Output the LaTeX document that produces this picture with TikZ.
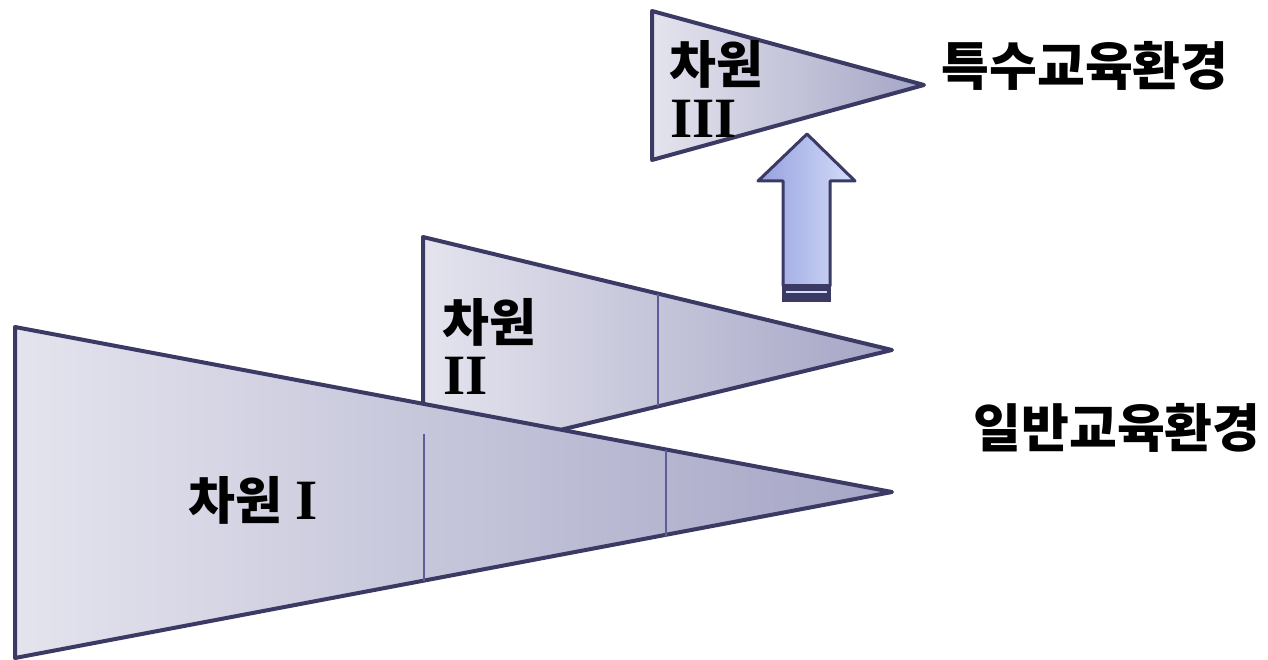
\documentclass[tikz,border=0pt]{standalone}
\usepackage{fontspec}
\setmainfont{Liberation Serif}
\newfontfamily\kr{Noto Sans CJK KR}
\usetikzlibrary{positioning}

\definecolor{wedgeline}{RGB}{58,58,100}
\definecolor{dividerline}{RGB}{92,92,150}
\definecolor{wedgelight}{RGB}{228,228,238}
\definecolor{wedgedark}{RGB}{165,165,198}
\definecolor{arrowdark}{RGB}{150,160,222}
\definecolor{arrowlight}{RGB}{212,222,250}

\newcommand{\numsize}{\fontsize{57}{60}\selectfont}

\begin{document}
\begin{tikzpicture}[x=1pt, y=-1pt, line join=round,
    wedge/.style={draw=wedgeline, line width=4pt, left color=wedgelight, right color=wedgedark},
    divider/.style={draw=dividerline, line width=2pt},
    dimtext/.style={inner sep=0pt, font=\fontsize{51}{60}\selectfont\bfseries},
    envtext/.style={inner sep=0pt, font=\kr\fontsize{52}{60}\selectfont\bfseries}]
        \useasboundingbox (0,0) rectangle (1268,660);

        % Dimension III
        \draw[wedge] (652,11) -- (924,85) -- (652,160) -- cycle;
        \node[dimtext, anchor=base west] (dimIII) at (669,84) {\kr 차원};
        \node[dimtext, anchor=base west] (dimIIInum) at (670,138) {\numsize III};

        % Arrow
        \draw[draw=wedgeline, line width=3pt, left color=arrowdark, middle color=arrowlight, right color=arrowlight]
            (807,134) -- (855,181) -- (830,181) -- (830,286) -- (783,286) -- (783,181) -- (758,181) -- cycle;
        \fill[wedgeline] (782,284) rectangle (831,302);
        \draw[arrowlight, line width=1.5pt] (786,292) -- (827,292);

        % Dimension II
        \draw[wedge] (423,237) -- (892,350) -- (423,463) -- cycle;
        \draw[divider] (658,294) -- (658,406);
        \node[dimtext, anchor=base west] (dimII) at (442,341) {\kr 차원};
        \node[dimtext, anchor=base west] (dimIInum) at (443,394) {\numsize II};

        % Dimension I
        \draw[wedge] (15,327) -- (892,492) -- (15,658) -- cycle;
        \draw[divider] (424,434) -- (424,581);
        \draw[divider] (666,450) -- (666,537);
        \node[dimtext, anchor=base] (dimI) at (253,519) {{\kr 차원} {\numsize I}};

        % Environments
        \node[envtext, anchor=base] (special) at (1085,86) {특수교육환경};
        \node[envtext, anchor=base] (general) at (1117,447) {일반교육환경};
    \end{tikzpicture}
\end{document}
